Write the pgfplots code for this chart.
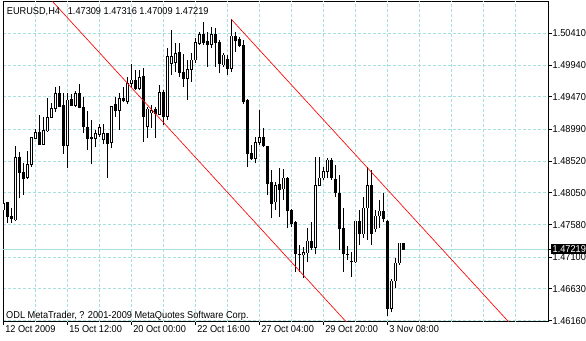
\documentclass[border=0pt]{standalone}
\usepackage{fontspec}
\setmainfont{Liberation Sans}
\newfontfamily\mt[FakeStretch=0.92]{Liberation Sans}
\newcommand\mtf{\mt\fontsize{10}{12}\selectfont}
\usepackage{pgfplots}
\usepackage{pgfplotstable}
\pgfplotsset{compat=1.18}
\definecolor{gridc}{RGB}{168,224,226}

\pgfplotstableread{
k O H L C
0 1.47797 1.48004 1.47697 1.47896
1 1.47905 1.47915 1.47609 1.47697
2 1.47708 1.47822 1.47609 1.47668
3 1.47649 1.48743 1.47638 1.48576
4 1.48576 1.48659 1.47970 1.48348
5 1.48358 1.48496 1.48018 1.48259
6 1.48274 1.48669 1.48250 1.48472
7 1.48472 1.48880 1.48437 1.48866
8 1.48857 1.48999 1.48857 1.48946
9 1.48946 1.49201 1.48768 1.48768
10 1.48768 1.49167 1.48768 1.48975
11 1.48965 1.49448 1.48954 1.49167
12 1.49167 1.49383 1.49167 1.49300
13 1.49300 1.49611 1.49250 1.49522
14 1.49522 1.49630 1.49324 1.49334
15 1.49339 1.49522 1.48625 1.48747
16 1.48747 1.49531 1.48413 1.49423
17 1.49434 1.49508 1.49334 1.49345
18 1.49339 1.49556 1.49324 1.49522
19 1.49527 1.49660 1.49300 1.49315
20 1.49315 1.49472 1.48931 1.49028
21 1.49019 1.49260 1.48684 1.48857
22 1.48872 1.49127 1.48472 1.48857
23 1.48857 1.48980 1.48724 1.48925
24 1.48920 1.49064 1.48880 1.49019
25 1.48846 1.49064 1.48768 1.48931
26 1.48935 1.48940 1.48265 1.48783
27 1.48792 1.49340 1.48709 1.49334
28 1.49364 1.49472 1.49176 1.49265
29 1.49265 1.49522 1.48980 1.49448
30 1.49448 1.49620 1.49398 1.49413
31 1.49408 1.49768 1.49364 1.49670
32 1.49670 1.49951 1.49596 1.49719
33 1.49719 1.49867 1.49571 1.49596
34 1.49590 1.49867 1.49571 1.49753
35 1.49768 1.49892 1.48806 1.49176
36 1.49028 1.49324 1.48866 1.49290
37 1.49231 1.49349 1.49009 1.49275
38 1.49290 1.49324 1.48866 1.49227
39 1.49212 1.49645 1.49201 1.49537
40 1.49537 1.49571 1.49054 1.49176
41 1.49176 1.50192 1.49127 1.50064
42 1.49966 1.50458 1.49793 1.50064
43 1.49981 1.50266 1.49842 1.50114
44 1.50123 1.50266 1.49768 1.49827
45 1.49837 1.50103 1.49620 1.49744
46 1.49744 1.50015 1.49423 1.49877
47 1.49877 1.50118 1.49694 1.50015
48 1.50015 1.50336 1.49966 1.50271
49 1.50262 1.50433 1.50237 1.50389
50 1.50389 1.50581 1.50237 1.50271
51 1.50285 1.50433 1.49916 1.50237
52 1.50247 1.50507 1.50188 1.50395
53 1.50395 1.50484 1.49916 1.50271
54 1.50277 1.50310 1.49818 1.49966
55 1.49941 1.50123 1.49916 1.50089
56 1.50030 1.50089 1.49793 1.49892
57 1.49892 1.50617 1.49842 1.50370
58 1.50359 1.50433 1.50137 1.50310
59 1.50325 1.50359 1.50211 1.50226
60 1.50237 1.50310 1.49360 1.49398
61 1.49423 1.49434 1.48428 1.48625
62 1.48635 1.48758 1.48536 1.48551
63 1.48555 1.48872 1.48487 1.48798
64 1.48792 1.49275 1.48758 1.48866
65 1.48872 1.49014 1.48733 1.48743
66 1.48743 1.48750 1.48018 1.48191
67 1.48200 1.48388 1.47674 1.47896
68 1.47915 1.48211 1.47797 1.48166
69 1.48177 1.48413 1.47697 1.48103
70 1.48107 1.48403 1.47944 1.48270
71 1.48270 1.48285 1.47530 1.47782
72 1.47797 1.47811 1.47545 1.47604
73 1.47619 1.47634 1.46880 1.47146
74 1.47146 1.47279 1.46880 1.47131
75 1.47131 1.47249 1.46791 1.47175
76 1.47161 1.47530 1.47028 1.47338
77 1.47338 1.47619 1.47205 1.47249
78 1.47249 1.48580 1.47146 1.48166
79 1.48166 1.48580 1.48151 1.48270
80 1.48270 1.48432 1.48240 1.48373
81 1.48373 1.48565 1.48270 1.48536
82 1.48536 1.48565 1.48240 1.48270
83 1.48255 1.48462 1.47989 1.48048
84 1.48048 1.48314 1.47205 1.47516
85 1.47530 1.47826 1.46880 1.47146
86 1.47146 1.47264 1.47057 1.47131
87 1.47042 1.47175 1.46806 1.47028
88 1.47028 1.47640 1.47020 1.47634
89 1.47634 1.47797 1.47279 1.47442
90 1.47442 1.47989 1.47383 1.47826
91 1.47826 1.48432 1.47353 1.48166
92 1.48166 1.48388 1.47279 1.47456
93 1.47516 1.47797 1.47471 1.47708
94 1.47708 1.47944 1.47530 1.47782
95 1.47782 1.48048 1.47619 1.47678
96 1.47634 1.47649 1.46229 1.46347
97 1.46347 1.46776 1.46288 1.46747
98 1.46747 1.47087 1.46643 1.47013
99 1.47013 1.47316 1.46983 1.47309
100 1.47309 1.47316 1.47210 1.47219
}\candles

\begin{document}
\begin{tikzpicture}
\begin{axis}[
  scale only axis, width=545pt, height=320.2pt,
  at={(0,0)}, anchor=south west,
  xmin=-0.075, xmax=136.175, ymin=1.46145, ymax=1.50880,
  axis line style={black, line width=1pt},
  scaled ticks=false,
  xtick={0,16,32,48,64,80,96},
  xticklabels={12 Oct 2009,15 Oct 12:00,20 Oct 00:00,22 Oct 16:00,27 Oct 04:00,29 Oct 20:00,3 Nov 08:00},
  ytick={1.46160,1.46630,1.47100,1.47580,1.48050,1.48520,1.48990,1.49470,1.49940,1.50410},
  yticklabels={1.46160,1.46630,1.47100,1.47580,1.48050,1.48520,1.48990,1.49470,1.49940,1.50410},
  xtick pos=lower, ytick pos=right, yticklabel pos=right,
  tick align=outside, major tick length=3.5pt,
  tick style={black, line width=1pt},
  tick label style={font=\mtf, text=black},
  xticklabel style={anchor=north west, inner sep=0pt, xshift=1.8pt, yshift=-0.5pt},
  yticklabel style={anchor=west, inner sep=0pt, xshift=1pt},
  xmajorgrids=false, ymajorgrids=true,
  major grid style={draw=gridc, line width=1pt, dash pattern=on 3pt off 2pt},
  extra x ticks={8,16,...,128}, extra x tick labels={},
  extra x tick style={grid=major, major tick length=0pt},
  extra y ticks={1.47219}, extra y tick labels={1.47219},
  extra y tick style={grid=major, major grid style={solid, draw=gridc, line width=1pt},
    yticklabel style={fill=black, text=white, inner xsep=2pt, inner ysep=1.6pt, xshift=-2pt}},
]
% wicks
\addplot[draw=none, mark=none, forget plot,
  error bars/.cd, y dir=plus, y explicit, error mark=none,
  error bar style={draw=black, line width=1pt}]
  table[x=k, y=L, y error plus expr=\thisrow{H}-\thisrow{L}] {\candles};
% bearish bodies
\addplot[draw=none, mark=none, forget plot, unbounded coords=discard,
  error bars/.cd, y dir=plus, y explicit, error mark=none,
  error bar style={draw=black, line width=3.2pt}]
  table[x=k, y expr={\thisrow{C}<\thisrow{O} ? \thisrow{C}-0.00007 : nan},
        y error plus expr=\thisrow{O}-\thisrow{C}+0.00014] {\candles};
% bullish bodies: outline
\addplot[draw=none, mark=none, forget plot, unbounded coords=discard,
  error bars/.cd, y dir=plus, y explicit, error mark=none,
  error bar style={draw=black, line width=3.2pt}]
  table[x=k, y expr={\thisrow{C}<\thisrow{O} ? nan : \thisrow{O}-0.00007},
        y error plus expr=\thisrow{C}-\thisrow{O}+0.00014] {\candles};
% bullish bodies: white interior
\addplot[draw=none, mark=none, forget plot, unbounded coords=discard,
  error bars/.cd, y dir=plus, y explicit, error mark=none,
  error bar style={draw=white, line width=1.2pt}]
  table[x=k, y expr={\thisrow{C}-\thisrow{O}>0.00014 ? \thisrow{O}+0.00007 : nan},
        y error plus expr=\thisrow{C}-\thisrow{O}-0.00014] {\candles};
% channel lines
\addplot[red, line width=0.65pt] coordinates {(11,1.50964) (88,1.45996)};
\addplot[red, line width=0.65pt] coordinates {(57,1.50617) (130,1.45906)};
\node[anchor=base west, font=\mtf, inner sep=0pt] at (rel axis cs:0,1) [xshift=3.7pt, yshift=-13.2pt]
  {EURUSD,H4\hspace{7.8pt}1.47309 1.47316 1.47009 1.47219};
\node[anchor=base west, font=\mtf, inner sep=0pt] at (rel axis cs:0,0) [xshift=3pt, yshift=3.7pt]
  {ODL MetaTrader, ? 2001-2009 MetaQuotes Software Corp.};
\end{axis}
\pgfresetboundingbox
\path[use as bounding box] (-3pt,-18.3pt) rectangle (583pt,321.7pt);
\end{tikzpicture}
\end{document}
